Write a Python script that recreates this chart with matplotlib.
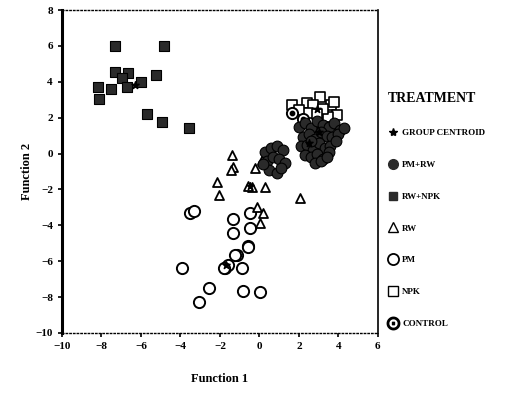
import matplotlib.pyplot as plt
from matplotlib.lines import Line2D

plt.rcParams['font.family'] = ['Liberation Serif', 'DejaVu Serif']

# RW+NPK (filled squares)
rwnpk_x = [-7.3, -4.85, -7.3, -6.65, -6.95, -8.2, -8.1, -7.5, -6.7, -6.0, -5.25, -5.7, -4.95, -3.55]
rwnpk_y = [6.0, 6.0, 4.55, 4.5, 4.2, 3.7, 3.05, 3.6, 3.7, 4.0, 4.4, 2.2, 1.75, 1.4]

# PM (open circles)
pm_x = [-3.9, -2.55, -3.05, -1.75, -1.15, -0.6, -0.9, -0.85, 0.05, -1.35, -0.5, -0.5,
        -1.35, -0.6, -1.25, -3.5, -3.3, -1.6, -1.8]
pm_y = [-6.4, -7.5, -8.3, -6.35, -5.65, -5.15, -6.4, -7.65, -7.7, -3.65, -3.3, -4.15,
        -4.45, -5.2, -5.65, -3.3, -3.2, -6.2, -6.4]

# RW (open triangles)
rw_x = [-1.4, -1.35, -1.45, -2.15, -2.05, -0.2, 0.15, -0.35, 0.3, 2.05, -0.1, 0.2, 0.05, -0.6]
rw_y = [-0.1, -0.75, -0.9, -1.6, -2.3, -0.8, -0.35, -1.85, -1.85, -2.45, -3.0, -3.3, -3.85, -1.8]

# PM+RW (filled circles)
pmrw_x = [2.0, 2.3, 2.6, 2.9, 3.2, 3.5, 3.8, 4.1, 2.2, 2.5, 2.8, 3.1, 3.4, 3.7, 4.0, 4.3,
          2.1, 2.4, 2.7, 3.0, 3.3, 3.6, 3.9, 2.3, 2.6, 2.9, 3.2, 3.5, 2.8, 3.1, 3.4, 2.6,
          0.3, 0.6, 0.9, 1.2, 0.4, 0.7, 1.0, 1.3, 0.5, 0.9, 1.1, 0.2]
pmrw_y = [1.5, 1.7, 1.4, 1.8, 1.6, 1.5, 1.7, 1.3, 0.9, 1.1, 0.8, 1.2, 1.0, 0.9, 1.1, 1.4,
          0.4, 0.5, 0.2, 0.6, 0.3, 0.4, 0.7, -0.1, -0.2, 0.0, -0.3, 0.1, -0.5, -0.4, -0.2, 0.7,
          0.1, 0.3, 0.4, 0.2, -0.4, -0.2, -0.3, -0.5, -0.9, -1.1, -0.8, -0.6]

# NPK (open squares)
npk_x = [1.65, 2.4, 3.05, 3.65, 3.95, 2.7, 3.45, 2.45, 2.0, 3.2, 3.8, 2.9]
npk_y = [2.7, 2.8, 3.15, 2.7, 2.15, 2.7, 2.05, 2.25, 2.4, 2.5, 2.9, 2.2]

# CONTROL (circle with dot)
ctrl_x = [1.65, 2.2, 3.0]
ctrl_y = [2.25, 1.9, 1.4]

# group centroids
cent_x = [-6.3, 2.5, -0.5, -1.7, 2.9, 3.0]
cent_y = [3.8, 0.6, -1.8, -6.2, 2.5, 1.2]

fig = plt.figure(figsize=(5.23, 4.0), dpi=100)
ax = fig.add_axes([0.1185, 0.1675, 0.604, 0.8075])

ax.scatter(pm_x, pm_y, s=65, facecolors='white', edgecolors='black', linewidths=1.4, zorder=2)
ax.scatter(rw_x, rw_y, s=42, marker='^', facecolors='white', edgecolors='black', linewidths=1.3, zorder=3)
ax.scatter(npk_x, npk_y, s=42, marker='s', facecolors='white', edgecolors='black', linewidths=1.2, zorder=3)
ax.scatter(ctrl_x, ctrl_y, s=65, facecolors='white', edgecolors='black', linewidths=1.4, zorder=3)
ax.scatter(ctrl_x, ctrl_y, s=10, color='black', zorder=4)
ax.scatter(pmrw_x, pmrw_y, s=60, color='#2a2a2a', edgecolors='black', linewidths=0.8, zorder=4)
ax.scatter(rwnpk_x, rwnpk_y, s=48, marker='s', color='#2a2a2a', edgecolors='black', linewidths=0.8, zorder=4)
ax.scatter(cent_x, cent_y, s=30, marker='*', color='black', zorder=5)

ax.set_xlim(-10, 6)
ax.set_ylim(-10, 8)
ax.set_xticks(range(-10, 7, 2))
ax.set_yticks(range(-10, 9, 2))
ax.tick_params(labelsize=8, length=3, width=1.2, direction='out')
for lab in ax.get_xticklabels() + ax.get_yticklabels():
    lab.set_fontweight('bold')

ax.spines['left'].set_linewidth(2.2)
ax.spines['right'].set_linewidth(1.2)
ax.spines['top'].set_linestyle(':')
ax.spines['top'].set_linewidth(1.0)
ax.spines['bottom'].set_linestyle(':')
ax.spines['bottom'].set_linewidth(1.0)

ax.set_xlabel('Function 1', fontsize=9, fontweight='bold', labelpad=16)
ax.set_ylabel('Function 2', fontsize=9, fontweight='bold', labelpad=2)

handles = [
    Line2D([], [], marker='*', ls='', color='black', markersize=6),
    Line2D([], [], marker='o', ls='', color='#2a2a2a', markersize=7),
    Line2D([], [], marker='s', ls='', color='#2a2a2a', markersize=6),
    Line2D([], [], marker='^', ls='', mfc='white', mec='black', markersize=7),
    Line2D([], [], marker='o', ls='', mfc='white', mec='black', mew=1.3, markersize=8),
    Line2D([], [], marker='s', ls='', mfc='white', mec='black', markersize=7),
    Line2D([], [], marker='$\\odot$', ls='', color='black', markersize=9),
]
labels = ['GROUP CENTROID', 'PM+RW', 'RW+NPK', 'RW', 'PM', 'NPK', 'CONTROL']
leg = ax.legend(handles, labels, loc='upper left', bbox_to_anchor=(1.005, 0.77),
                frameon=False, fontsize=6.5, labelspacing=2.6, handletextpad=0.4,
                handlelength=1.2, title='TREATMENT', alignment='left')
leg.get_title().set_fontweight('bold')
leg.get_title().set_fontsize(10)
for t in leg.get_texts():
    t.set_fontweight('bold')

fig.savefig('out.png', dpi=100)
